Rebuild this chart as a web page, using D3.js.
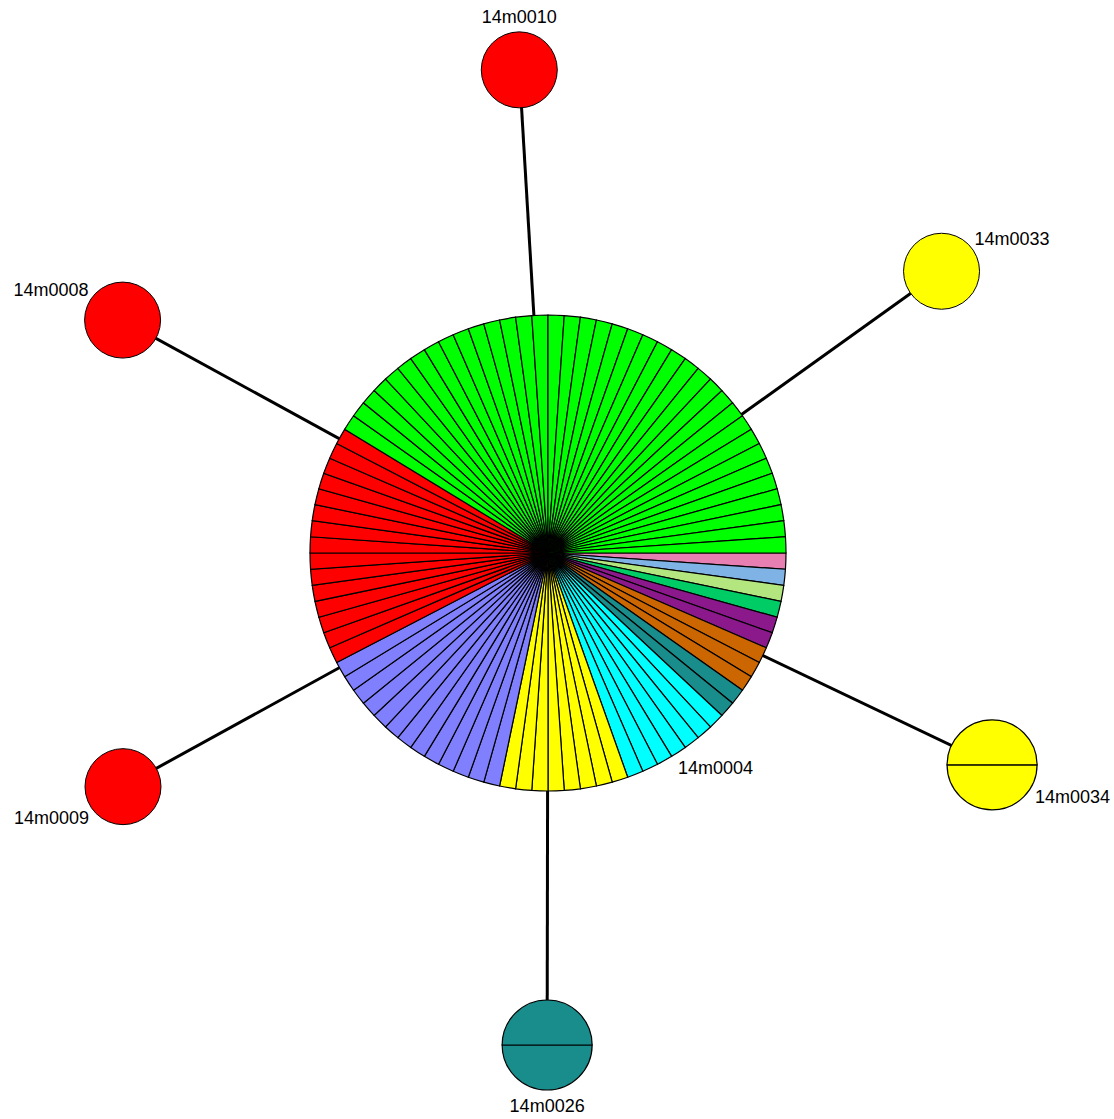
<!DOCTYPE html>
<html>
<head>
<meta charset="utf-8">
<script src="https://cdn.jsdelivr.net/npm/d3@7"></script>
<style>
  body { margin: 0; background: #fff; }
  text { font-family: "Liberation Sans", Arial, sans-serif; font-size: 18px; fill: #000; }
</style>
</head>
<body>
<div id="tree"></div>
<script>
// groups (one colour per group), counted isolates in the central node
var groupColors = ["#e77fb3", "#7fb3e6", "#b3e67f", "#00cc66", "#8c198c", "#cc6600", "#198c8c", "#00ffff", "#ffff00", "#8080ff", "#ff0000", "#00ff00"]
var centerName = "14m0004"
var centerCounts = [1, 1, 1, 1, 2, 3, 2, 7, 8, 13, 15, 38]

// satellite nodes
var nodeNames = ["14m0010", "14m0033", "14m0034", "14m0026", "14m0009", "14m0008"]
var nodeGroup = [10, 8, 8, 6, 10, 10]
var nodeCounts = [1, 1, 2, 2, 1, 1]

// layout of the tree (link direction in degrees, link length)
var linkAngle = [-93.4, -35.6, 25.5, 90.1, 151.2, -151.3]
var linkLength = [484, 484, 492, 492, 485, 485]
var labelDx = [0, 33, 43, 0, -34, -34]
var labelDy = [-53, -33, 32, 61, 31, -30]
var labelAnchor = ["middle", "start", "start", "middle", "end", "end"]

var width = 1114, height = 1119
var cx = 548, cy = 553

var svg = d3.select('#tree').append('svg').attr('width', width).attr('height', height)
var g = svg.append('g')

var rScale = d3.scaleLinear().domain([1, 2, 92]).range([38, 45, 238])

function isolates(counts) {
  var out = []
  counts.forEach(function(c, i) { d3.range(c).forEach(function() { out.push(i) }) })
  return out
}
function isolatesOf(group, n) {
  return d3.range(n).map(function() { return group })
}

var pie = d3.pie().value(1).sort(null)
  .startAngle(Math.PI / 2).endAngle(Math.PI / 2 + 2 * Math.PI)

var nodes = nodeNames.map(function(name, i) {
  var a = linkAngle[i] * Math.PI / 180
  return {
    name: name,
    x: cx + linkLength[i] * Math.cos(a),
    y: cy + linkLength[i] * Math.sin(a),
    r: rScale(nodeCounts[i]),
    slices: isolatesOf(nodeGroup[i], nodeCounts[i]),
    i: i
  }
})

// links under the nodes
g.selectAll('line.link')
  .data(nodes)
  .enter().append('line')
  .attr('class', 'link')
  .attr('x1', cx).attr('y1', cy)
  .attr('x2', function(d) { return d.x })
  .attr('y2', function(d) { return d.y })
  .style('stroke', '#000')
  .style('stroke-width', 3)

function drawNode(x, y, r, slices) {
  var ng = g.append('g').attr('transform', 'translate(' + x + ',' + y + ')')
  var arc = d3.arc().innerRadius(0).outerRadius(r)
  if (slices.length == 1) {
    ng.append('circle').attr('r', r)
      .style('fill', groupColors[slices[0]])
      .style('stroke', '#000').style('stroke-width', 1)
  } else {
    ng.selectAll('path')
      .data(pie(slices))
      .enter().append('path')
      .attr('d', arc)
      .style('fill', function(d) { return groupColors[d.data] })
      .style('stroke', '#000')
      .style('stroke-width', 1.2)
  }
  return ng
}

var central = drawNode(cx, cy, rScale(d3.sum(centerCounts)), isolates(centerCounts))
nodes.forEach(function(d) { drawNode(d.x, d.y, d.r, d.slices) })

// labels
g.selectAll('text.label')
  .data(nodes)
  .enter().append('text')
  .attr('class', 'label')
  .attr('x', function(d) { return d.x + labelDx[d.i] })
  .attr('y', function(d) { return d.y + labelDy[d.i] })
  .attr('dy', '0.35em')
  .style('text-anchor', function(d) { return labelAnchor[d.i] })
  .text(function(d) { return d.name })

g.append('text')
  .attr('x', cx + 130).attr('y', cy + 215).attr('dy', '0.35em')
  .style('text-anchor', 'start')
  .text(centerName)
</script>
</body>
</html>
